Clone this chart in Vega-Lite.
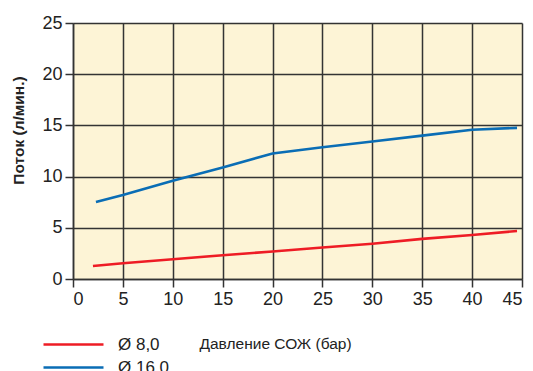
{
  "$schema": "https://vega.github.io/schema/vega-lite/v6.json",
  "autosize": {"type": "none"},
  "padding": {"left": 73, "top": 23, "right": 11, "bottom": 92},
  "width": 449,
  "height": 256,
  "background": "white",
  "config": {
    "font": "Liberation Sans",
    "view": {"fill": "#fdf4d6", "stroke": null}
  },
  "data": {
    "values": [
      {"series": "Ø 8,0", "p": 2, "q": 1.27},
      {"series": "Ø 8,0", "p": 5, "q": 1.54},
      {"series": "Ø 8,0", "p": 10, "q": 1.93},
      {"series": "Ø 8,0", "p": 15, "q": 2.32},
      {"series": "Ø 8,0", "p": 20, "q": 2.68},
      {"series": "Ø 8,0", "p": 25, "q": 3.07},
      {"series": "Ø 8,0", "p": 30, "q": 3.45},
      {"series": "Ø 8,0", "p": 35, "q": 3.92},
      {"series": "Ø 8,0", "p": 40, "q": 4.3},
      {"series": "Ø 8,0", "p": 44.5, "q": 4.69},
      {"series": "Ø 16,0", "p": 2.3, "q": 7.52},
      {"series": "Ø 16,0", "p": 5, "q": 8.2},
      {"series": "Ø 16,0", "p": 10, "q": 9.6},
      {"series": "Ø 16,0", "p": 15, "q": 10.9},
      {"series": "Ø 16,0", "p": 20, "q": 12.25},
      {"series": "Ø 16,0", "p": 25, "q": 12.86},
      {"series": "Ø 16,0", "p": 30, "q": 13.42},
      {"series": "Ø 16,0", "p": 35, "q": 14.0},
      {"series": "Ø 16,0", "p": 40, "q": 14.58},
      {"series": "Ø 16,0", "p": 44.5, "q": 14.76}
    ]
  },
  "mark": {"type": "line", "strokeWidth": 2.6},
  "encoding": {
    "x": {
      "field": "p", "type": "quantitative",
      "scale": {"domain": [0, 45], "nice": false, "zero": false},
      "axis": {
        "values": [0, 5, 10, 15, 20, 25, 30, 35, 40, 45],
        "title": "Давление СОЖ (бар)",
        "titleX": 126, "titleY": 64, "titleAlign": "left", "titleBaseline": "middle",
        "titleFontSize": 15.5, "titleFontWeight": "normal", "titleColor": "#222",
        "labelFontSize": 18, "labelColor": "#222", "labelPadding": 3,
        "tickSize": 8, "tickColor": "#333", "tickWidth": 1.5,
        "domainColor": "#333", "domainWidth": 1.5,
        "grid": true, "gridColor": "#333", "gridWidth": 1.5, "gridOpacity": 1
      }
    },
    "y": {
      "field": "q", "type": "quantitative",
      "scale": {"domain": [0, 25], "nice": false},
      "axis": {
        "values": [0, 5, 10, 15, 20, 25],
        "title": "Поток (л/мин.)",
        "titleX": -55, "titleY": 107, "titleAngle": 270, "titleAlign": "center", "titleBaseline": "middle",
        "titleFontSize": 15.5, "titleFontWeight": "bold", "titleColor": "#222",
        "labelFontSize": 18, "labelColor": "#222", "labelPadding": 3,
        "tickSize": 8, "tickColor": "#333", "tickWidth": 1.5,
        "domainColor": "#333", "domainWidth": 1.5,
        "grid": true, "gridColor": "#333", "gridWidth": 1.5, "gridOpacity": 1
      }
    },
    "color": {
      "field": "series", "type": "nominal",
      "scale": {"domain": ["Ø 8,0", "Ø 16,0"], "range": ["#ee1c25", "#0a6db5"]},
      "legend": {
        "orient": "none", "legendX": -31, "legendY": 313,
        "title": null,
        "symbolType": "M-1,0H7.571", "symbolSize": 196, "symbolStrokeWidth": 2.5,
        "labelFontSize": 17, "labelColor": "#222", "labelOffset": 59,
        "rowPadding": 5
      }
    }
  }
}
